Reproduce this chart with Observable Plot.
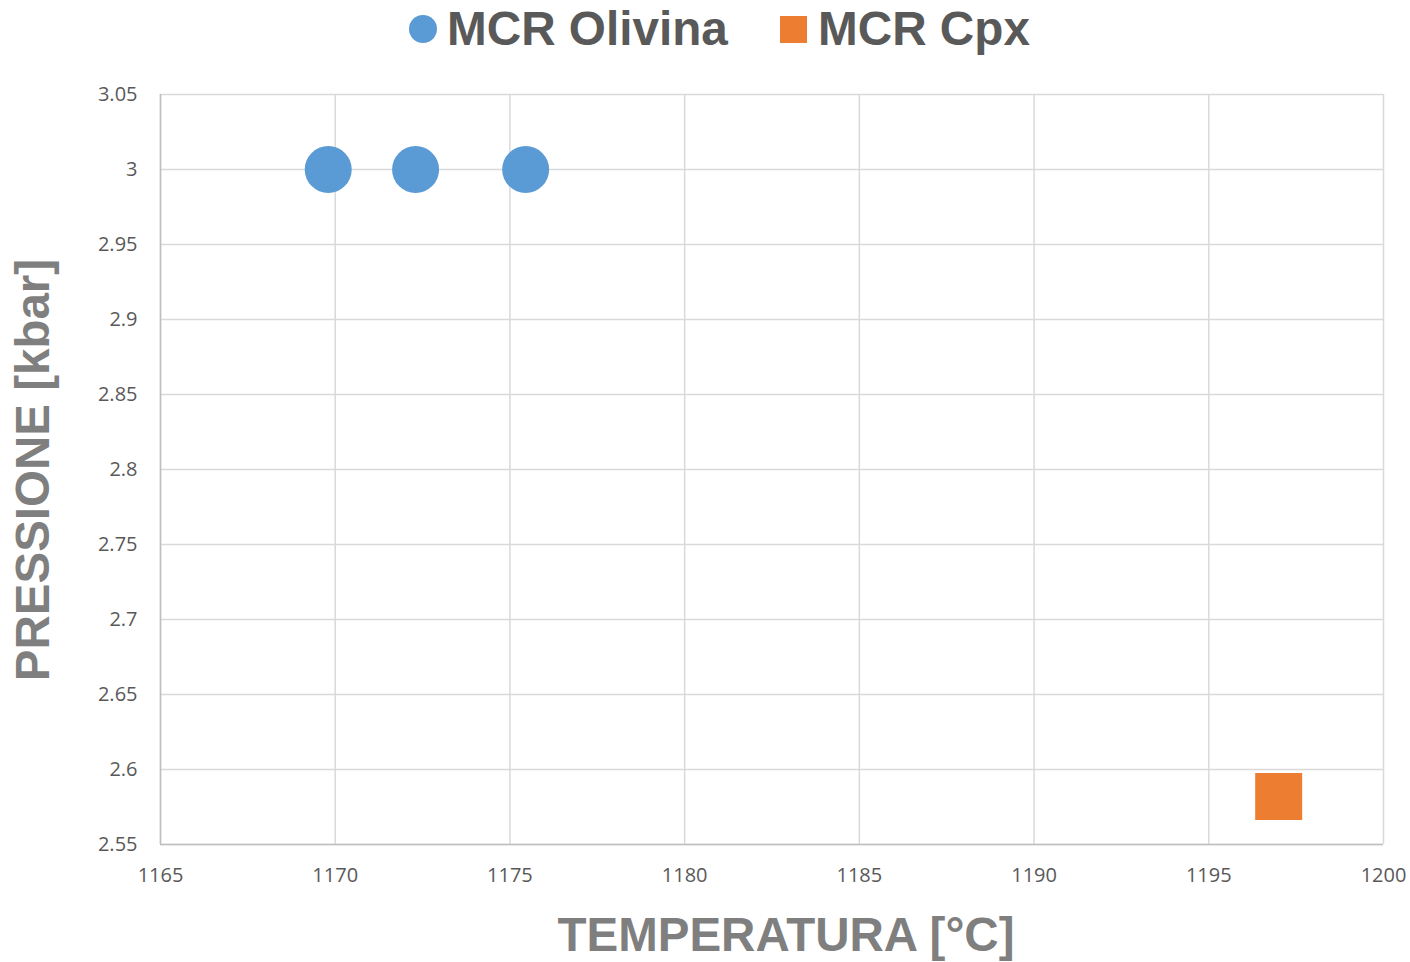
<!DOCTYPE html>
<html>
<head>
<meta charset="utf-8">
<script src="https://cdn.jsdelivr.net/npm/d3@7"></script>
<script src="https://cdn.jsdelivr.net/npm/@observablehq/plot@0.6"></script>
<style>
  html, body { margin: 0; padding: 0; background: #fff; }
  #wrap { position: relative; width: 1410px; height: 962px; }
  .title { position: absolute; font-family: "Liberation Sans", Arial, sans-serif; font-weight: bold; white-space: nowrap; }
  #legend { position: absolute; top: 0; left: 0; width: 1410px; height: 60px; }
  .lg { position: absolute; font-family: "Liberation Sans", Arial, sans-serif; font-weight: bold; font-size: 47.7px; color: #595959; line-height: 1; }
  .sw { position: absolute; }
</style>
</head>
<body>
<div id="wrap">
  <div id="legend"></div>
  <div class="title" id="xtitle"></div>
  <div class="title" id="ytitle"></div>
</div>
<script>
// Temperatures (°C) and pressures (kbar) from each thermobarometer
const olivinaT = [1169.8, 1172.3, 1175.45];
const olivinaP = [3.0, 3.0, 3.0];
const cpxT = [1197.0];
const cpxP = [2.582];

const seriesNames = ["MCR Olivina", "MCR Cpx"];
const seriesColors = ["#5B9BD5", "#ED7D31"];

const xTicks = [1165, 1170, 1175, 1180, 1185, 1190, 1195, 1200];
const yTicks = [2.55, 2.6, 2.65, 2.7, 2.75, 2.8, 2.85, 2.9, 2.95, 3, 3.05];

const xLabel = "TEMPERATURA [°C]";
const yLabel = "PRESSIONE [kbar]";

const olivina = olivinaT.map((t, i) => ({T: t, P: olivinaP[i]}));
const cpx = cpxT.map((t, i) => ({T: t, P: cpxP[i]}));

const fmt = d => String(+d.toFixed(2));

const chart = Plot.plot({
  width: 1410,
  height: 962,
  marginLeft: 160,
  marginRight: 27,
  marginTop: 94,
  marginBottom: 118,
  style: {fontFamily: "'Open Sans', sans-serif", fontSize: "20px", color: "#595959", background: "transparent"},
  x: {domain: [1165, 1200], ticks: xTicks, tickFormat: fmt, label: null},
  y: {domain: [2.55, 3.05], ticks: yTicks, tickFormat: fmt, label: null},
  marks: [
    Plot.gridX(xTicks, {stroke: "#d9d9d9", strokeOpacity: 1, strokeWidth: 1.5}),
    Plot.gridY(yTicks, {stroke: "#d9d9d9", strokeOpacity: 1, strokeWidth: 1.5}),
    Plot.ruleX([1165], {stroke: "#bfbfbf", strokeWidth: 1.5}),
    Plot.ruleY([2.55], {stroke: "#bfbfbf", strokeWidth: 1.5}),
    Plot.axisX(xTicks, {tickSize: 0, tickPadding: 23, tickFormat: fmt, fill: "#595959", label: null}),
    Plot.axisY(yTicks, {tickSize: 0, tickPadding: 23, tickFormat: fmt, fill: "#595959", label: null}),
    Plot.dot(olivina, {x: "T", y: "P", r: 23.5, fill: seriesColors[0], symbol: "circle"}),
    Plot.dot(cpx, {x: "T", y: "P", r: 26.5, fill: seriesColors[1], symbol: "square"})
  ]
});
document.getElementById("wrap").prepend(chart);
chart.style.position = "absolute";
chart.style.left = "0";
chart.style.top = "0";

// Legend
const legend = document.getElementById("legend");
const items = [
  {x: 409, shape: "circle", textX: 447},
  {x: 780, shape: "square", textX: 818}
];
items.forEach((it, i) => {
  const sw = document.createElement("div");
  sw.className = "sw";
  sw.style.left = it.x + "px";
  sw.style.top = (it.shape === "circle" ? 15 : 16) + "px";
  sw.style.width = (it.shape === "circle" ? 28 : 27) + "px";
  sw.style.height = (it.shape === "circle" ? 28 : 27) + "px";
  sw.style.background = seriesColors[i];
  if (it.shape === "circle") sw.style.borderRadius = "50%";
  legend.appendChild(sw);
  const t = document.createElement("div");
  t.className = "lg";
  t.style.left = it.textX + "px";
  t.style.top = "5px";
  t.textContent = seriesNames[i];
  legend.appendChild(t);
});

// Axis titles
const xt = document.getElementById("xtitle");
xt.textContent = xLabel;
xt.style.fontSize = "47.5px";
xt.style.color = "#7f7f7f";
xt.style.left = "786px";
xt.style.top = "935px";
xt.style.transform = "translate(-50%, -50%)";
xt.style.lineHeight = "1";

const yt = document.getElementById("ytitle");
yt.textContent = yLabel;
yt.style.fontSize = "47.5px";
yt.style.color = "#7f7f7f";
yt.style.left = "33px";
yt.style.top = "470px";
yt.style.transform = "translate(-50%, -50%) rotate(-90deg)";
yt.style.lineHeight = "1";
</script>
</body>
</html>
